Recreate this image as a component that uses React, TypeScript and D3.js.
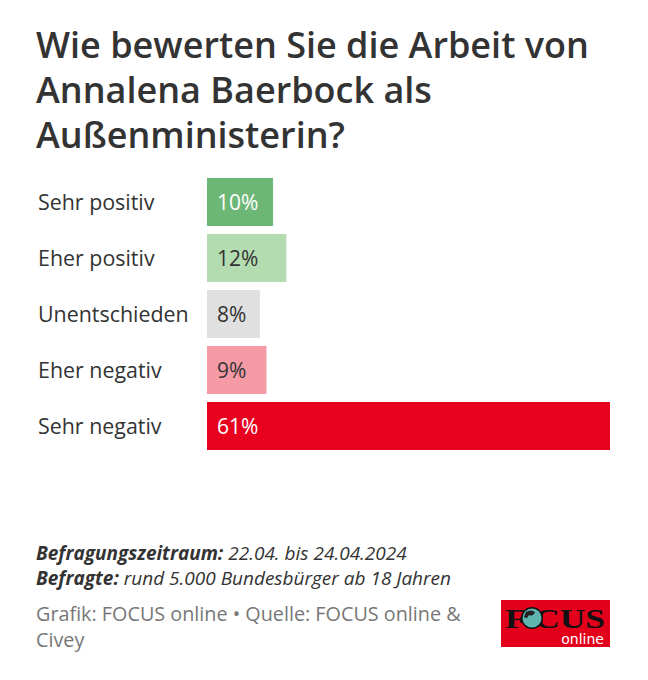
import React from "react";
import * as d3 from "d3";

const categories = ["Sehr positiv", "Eher positiv", "Unentschieden", "Eher negativ", "Sehr negativ"];
const values = [10, 12, 8, 9, 61];
const barColors = ["#6db776", "#b3dcb1", "#e0e0e0", "#f69aa6", "#e8001f"];
const valueColors = ["#ffffff", "#333333", "#333333", "#333333", "#ffffff"];
const titleLines = ["Wie bewerten Sie die Arbeit von", "Annalena Baerbock als", "Außenministerin?"];

export default function App() {
  const W = 648, H = 680;
  const x = d3.scaleLinear().domain([0, 61]).range([207, 610]);
  const y = d3.scaleBand().domain(categories).range([178, 450]).paddingInner(8 / 56).paddingOuter(0);
  const font = "'Open Sans', 'Noto Sans', sans-serif";
  return (
    <svg width={W} height={H} style={{ position: "absolute", left: 0, top: 0, background: "#fff" }} fontFamily={font}>
      <rect width={W} height={H} fill="#fff" />
      {titleLines.map((t, i) => (
        <text key={i} x={36} y={58 + i * 44.8} fontSize={36} fontWeight={600} fill="#333">{t}</text>
      ))}
      {categories.map((c, i) => {
        const by = y(c)!;
        const bh = y.bandwidth();
        return (
          <g key={c}>
            <text x={38} y={by + bh / 2} dy="0.36em" fontSize={21.4} fill="#333">{c}</text>
            <rect x={x(0)} y={by} width={x(values[i]) - x(0)} height={bh} fill={barColors[i]} />
            <text x={x(0) + 10} y={by + bh / 2} dy="0.36em" fontSize={21} fill={valueColors[i]}>{values[i]}%</text>
          </g>
        );
      })}
      <text x={36} y={560} fontSize={19} fontStyle="italic" fill="#333">
        <tspan fontWeight={700}>Befragungszeitraum:</tspan> 22.04. bis 24.04.2024
      </text>
      <text x={36} y={585} fontSize={19} fontStyle="italic" fill="#333">
        <tspan fontWeight={700}>Befragte:</tspan> rund 5.000 Bundesbürger ab 18 Jahren
      </text>
      <text x={36} y={621} fontSize={19.8} fill="#777">Grafik: FOCUS online • Quelle: FOCUS online &amp;</text>
      <text x={36} y={647} fontSize={19.8} fill="#777">Civey</text>
      <g>
        <rect x={501} y={600} width={109} height={47} fill="#e3001b" />
        <text x={505} y={628} fontSize={27} fontFamily="'Liberation Serif', 'DejaVu Serif', serif" fontWeight={700} fill="#111" textLength={100} lengthAdjust="spacingAndGlyphs">F  CUS</text>
        <circle cx={532} cy={618} r={11} fill="#111" />
        <circle cx={532} cy={618} r={9.5} fill="#5fb5b0" />
        <path d="M526,612 q5,-3 9,0 q-2,5 -6,3 q-2,5 -5,2 z" fill="#222" />
        <text x={604} y={644} fontSize={14} fill="#fff" textAnchor="end" fontFamily="'DejaVu Sans', sans-serif">online</text>
      </g>
    </svg>
  );
}
